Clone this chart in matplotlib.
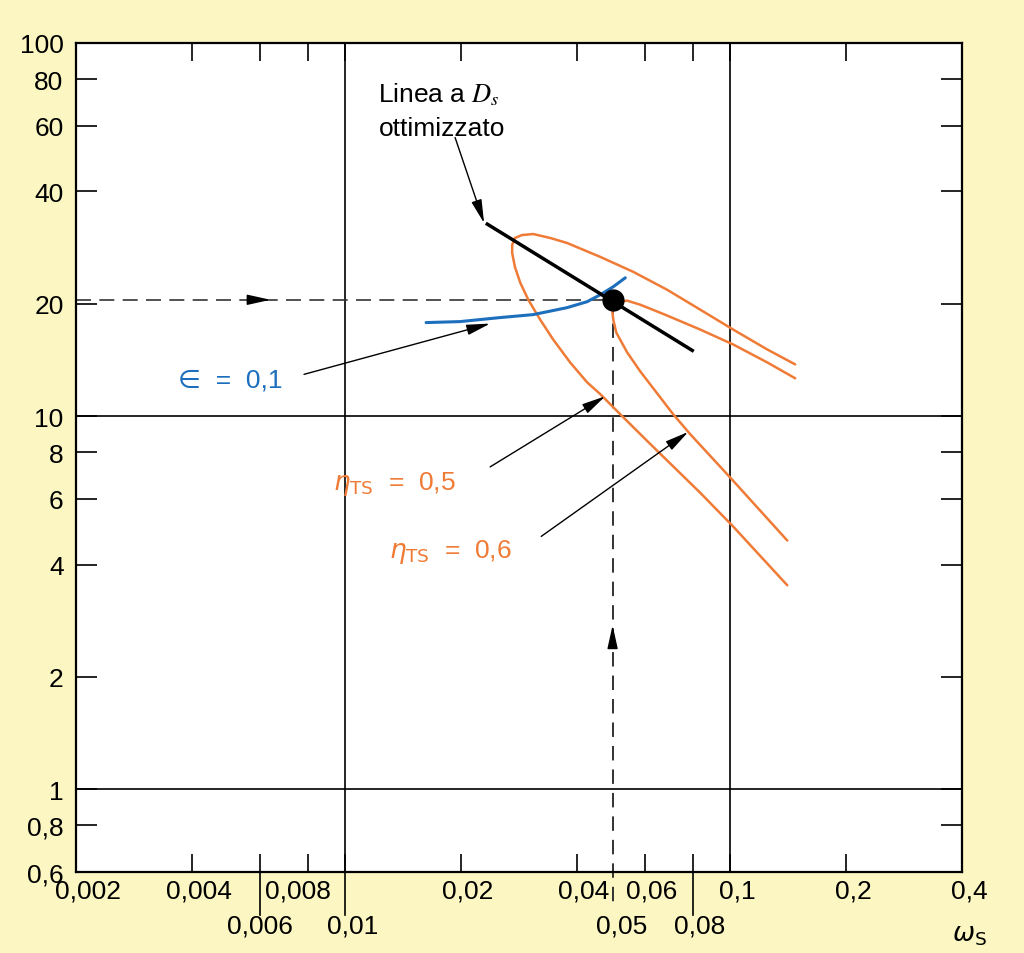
import numpy as np
import matplotlib
matplotlib.use("Agg")
import matplotlib.pyplot as plt
from matplotlib.transforms import blended_transform_factory, ScaledTranslation

plt.rcParams['font.family'] = ['Liberation Sans', 'DejaVu Sans']
plt.rcParams['mathtext.fontset'] = 'dejavusans'

# ---------------- data ----------------
x_major_ticks = [0.002, 0.004, 0.008, 0.02, 0.04, 0.06, 0.1, 0.2, 0.4]
x_major_labels = ['0,002', '0,004', '0,008', '0,02', '0,04', '0,06', '0,1', '0,2', '0,4']
x_minor_ticks = [0.006, 0.01, 0.05, 0.08]
x_minor_labels = ['0,006', '0,01', '0,05', '0,08']
y_ticks = [0.6, 0.8, 1, 2, 4, 6, 8, 10, 20, 40, 60, 80, 100]
y_labels = ['0,6', '0,8', '1', '2', '4', '6', '8', '10', '20', '40', '60', '80', '100']
x_grid = [0.01, 0.1]
y_grid = [1, 10]
x_extended = [0.006, 0.01, 0.08]

# line of optimized Ds
ds_x = [0.0234, 0.0797]
ds_y = [32.7, 15.0]

# epsilon = 0.1 curve
eps_x = [0.01623, 0.01989, 0.02527, 0.0308, 0.0377, 0.0425, 0.0460, 0.0497, 0.0534]
eps_y = [17.81, 17.92, 18.37, 18.71, 19.53, 20.26, 21.15, 22.22, 23.48]

# eta_TS = 0.5 (outer hairpin)
eta5_x = [0.1475, 0.1248, 0.1018, 0.0836, 0.0686, 0.0560, 0.0460, 0.0377, 0.0341,
          0.0308, 0.0288, 0.0276, 0.02715, 0.02715, 0.0276, 0.0285, 0.0299, 0.0321,
          0.0347, 0.0384, 0.0425, 0.0460, 0.0518, 0.0620, 0.0836, 0.1018, 0.1407]
eta5_y = [13.76, 15.09, 17.06, 19.29, 21.81, 24.36, 26.71, 29.11, 30.02,
          30.76, 30.57, 30.02, 28.75, 27.37, 25.12, 22.77, 20.51, 18.14,
          16.04, 13.93, 12.32, 11.45, 10.12, 8.42, 6.23, 5.06, 3.52]

# eta_TS = 0.6 (inner hairpin)
eta6_x = [0.1475, 0.1248, 0.1018, 0.0836, 0.0686, 0.0584, 0.0540, 0.0518, 0.04995,
          0.0494, 0.0497, 0.0506, 0.0540, 0.0584, 0.0711, 0.0787, 0.1018, 0.1407]
eta6_y = [12.63, 13.93, 15.56, 17.06, 18.60, 19.89, 20.39, 20.26, 19.89,
          19.17, 18.14, 16.75, 14.82, 13.18, 10.12, 8.95, 6.71, 4.64]

# optimum point
opt_x, opt_y = 0.0495, 20.5

# ---------------- style ----------------
BG = '#fbf6c2'
BLUE = '#1d6fbd'
ORANGE = '#ef7b36'
FS = 19

fig = plt.figure(figsize=(10.24, 9.54), dpi=100, facecolor=BG)
ax = fig.add_axes([76 / 1024, 1 - 873 / 954, (962 - 76) / 1024, (873 - 44) / 954])
ax.set_facecolor('white')
ax.set_xscale('log')
ax.set_yscale('log')
ax.set_xlim(0.002, 0.4)
ax.set_ylim(0.6, 100)

for s in ax.spines.values():
    s.set_linewidth(1.6)
    s.set_color('black')

# ticks
ax.set_xticks(x_major_ticks)
ax.set_xticklabels(x_major_labels)
ax.set_xticks(x_minor_ticks, minor=True)
ax.set_xticklabels(x_minor_labels, minor=True)
ax.set_yticks(y_ticks)
ax.set_yticklabels(y_labels)
ax.set_yticks([], minor=True)

ax.tick_params(axis='x', which='major', direction='in', length=13, width=1.2,
               top=True, bottom=True, labelsize=FS, pad=5)
ax.tick_params(axis='x', which='minor', direction='in', length=13, width=1.2,
               top=True, bottom=True, labelsize=FS, pad=30)
ax.tick_params(axis='y', which='major', direction='in', length=15, width=1.2,
               left=True, right=True, labelsize=FS, pad=9)

# hide the solid tick at 0.05 (dashed line there)
for t, v in zip(ax.xaxis.get_minor_ticks(), x_minor_ticks):
    if v == 0.05:
        t.tick1line.set_visible(False)
        t.tick2line.set_visible(False)

# small horizontal shifts of the x tick labels, as typeset in the original
shift_px = {0.002: 12, 0.006: 0, 0.008: -10}
for ticks, vals in ((ax.xaxis.get_major_ticks(), x_major_ticks),
                    (ax.xaxis.get_minor_ticks(), x_minor_ticks)):
    for t, v in zip(ticks, vals):
        dx = shift_px.get(v, 7)
        lab = t.label1
        lab.set_transform(lab.get_transform() +
                          ScaledTranslation(dx / 100, 0, fig.dpi_scale_trans))

# grid lines
for g in x_grid:
    ax.axvline(g, color='black', lw=1.2, zorder=1)
for g in y_grid:
    ax.axhline(g, color='black', lw=1.2, zorder=1)

# extensions below the axis
trans = blended_transform_factory(ax.transData, ax.transAxes)
for xe in x_extended:
    ax.plot([xe, xe], [0, -0.052], transform=trans, color='black', lw=1.2, clip_on=False)

# curves
kw = dict(solid_capstyle='round', solid_joinstyle='round')
ax.plot(eta5_x, eta5_y, color=ORANGE, lw=1.8, zorder=3, **kw)
ax.plot(eta6_x, eta6_y, color=ORANGE, lw=1.8, zorder=3, **kw)
ax.plot(eps_x, eps_y, color=BLUE, lw=2.2, zorder=4, **kw)
ax.plot(ds_x, ds_y, color='black', lw=2.5, zorder=5)

# dashed guide lines
ymin, ymax = ax.get_ylim()
y_below = ymin * (ymax / ymin) ** (-0.045)
ax.plot([0.002, opt_x], [opt_y, opt_y], color='#333333', lw=1.2, ls=(0, (9, 5)), zorder=2)
ax.plot([opt_x, opt_x], [opt_y, y_below], color='#222222', lw=1.3, ls=(0, (8, 5)),
        zorder=2, clip_on=False)
ax.plot([opt_x], [opt_y], 'o', color='black', ms=15, zorder=6)

arrow_head = dict(arrowstyle='-|>,head_length=0.9,head_width=0.2', color='black',
                  lw=1.0, mutation_scale=16, shrinkA=0, shrinkB=0)
ax.annotate('', xy=(0.0064, opt_y), xytext=(0.0058, opt_y), arrowprops=arrow_head)
ax.annotate('', xy=(opt_x, 2.75), xytext=(opt_x, 2.45), arrowprops=arrow_head)

# annotations
ax.annotate('', xy=(0.02296, 32.9), xytext=(0.0193, 55.8), arrowprops=arrow_head)
ax.text(0.0122, 73, 'Linea a $D_s$', fontsize=FS, va='center', ha='left',
        math_fontfamily='stix')
ax.text(0.0122, 59, 'ottimizzato', fontsize=FS, va='center', ha='left')

ax.annotate('', xy=(0.0238, 17.7), xytext=(0.00782, 12.94), arrowprops=arrow_head)
ax.text(0.00368, 12.5, '\u2208  =  0,1', fontsize=FS, color=BLUE,
        va='center', ha='left')

ax.annotate('', xy=(0.04735, 11.3), xytext=(0.0238, 7.31), arrowprops=arrow_head)
ax.text(0.0093, 6.6, r'$\eta_{\mathrm{TS}}$  =  0,5', fontsize=FS, color=ORANGE,
        va='center', ha='left')

ax.annotate('', xy=(0.0778, 9.07), xytext=(0.0323, 4.76), arrowprops=arrow_head)
ax.text(0.0130, 4.35, r'$\eta_{\mathrm{TS}}$  =  0,6', fontsize=FS, color=ORANGE,
        va='center', ha='left')

fig.text(969 / 1024, 1 - 936 / 954, r'$\omega_{\mathrm{S}}$', fontsize=FS,
         ha='center', va='center')

fig.savefig('out.png', dpi=100, facecolor=BG)
